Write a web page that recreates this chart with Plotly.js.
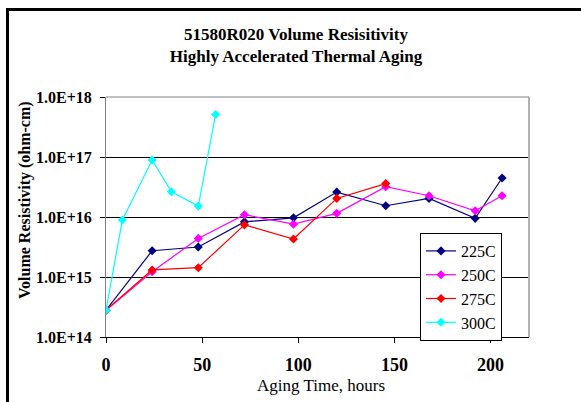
<!DOCTYPE html>
<html>
<head>
<meta charset="utf-8">
<script src="https://cdn.plot.ly/plotly-3.0.1.min.js"></script>
<style>html,body{margin:0;padding:0;background:#fff;}#chart{width:581px;height:402px;}</style>
</head>
<body>
<div id="chart"></div>
<script>
var x225 = [0, 24, 48, 72, 97.5, 120, 145.5, 168, 192, 206];
var y225 = [2.8e14, 2.74e15, 3.16e15, 8.3e15, 9.7e15, 2.6e16, 1.54e16, 2.04e16, 9.5e15, 4.47e16];
var x250 = [0, 24, 48, 72, 97.5, 120, 145.5, 168, 192, 206];
var y250 = [2.8e14, 1.22e15, 4.4e15, 1.09e16, 7.6e15, 1.15e16, 3.2e16, 2.26e16, 1.27e16, 2.26e16];
var x275 = [0, 24, 48, 72, 97.5, 120, 145.5];
var y275 = [2.8e14, 1.31e15, 1.43e15, 7.4e15, 4.3e15, 2.04e16, 3.6e16];
var x300 = [0, 8.5, 24, 34, 48, 57];
var y300 = [2.8e14, 8.9e15, 8.9e16, 2.63e16, 1.52e16, 5.1e17];
var seriesNames = ['225C', '250C', '275C', '300C'];
var seriesColors = ['#000080', '#FF00FF', '#FF0000', '#00FFFF'];
var yTickVals = [1e14, 1e15, 1e16, 1e17, 1e18];
var yTickText = ['1.0E+14', '1.0E+15', '1.0E+16', '1.0E+17', '1.0E+18'];
var xTickVals = [0, 50, 100, 150, 200];

var FONT = 'Liberation Serif';
var xs = [x225, x250, x275, x300];
var ys = [y225, y250, y275, y300];
var traces = seriesNames.map(function (n, i) {
  return {
    x: xs[i], y: ys[i], name: n, type: 'scatter', mode: 'lines+markers',
    line: {color: seriesColors[i], width: 1.2},
    marker: {symbol: 'diamond', size: 7, color: seriesColors[i]}
  };
});

var L = 106, R = 52, T = 97, B = 65, W = 581 - L - R, H = 402 - T - B;
function px(v) { return (v - L) / W; }
function py(v) { return (402 - B - v) / H; }

var layout = {
  width: 581, height: 402,
  margin: {l: L, r: R, t: T, b: B},
  paper_bgcolor: '#fff', plot_bgcolor: '#fff',
  font: {family: FONT, color: '#000'},
  title: {
    text: '<b>51580R020 Volume Resisitivity<br>Highly Accelerated Thermal Aging</b>',
    font: {size: 17, family: FONT, color: '#000'},
    xref: 'container', yref: 'container', x: 296 / 581, xanchor: 'center',
    y: 1 - 40 / 402, yanchor: 'middle'
  },
  xaxis: {
    range: [0, 220], tickvals: xTickVals, ticktext: xTickVals.map(function (v) { return '<b>' + v + '</b>'; }),
    ticks: 'outside', ticklen: 5, tickcolor: '#000', showgrid: false, zeroline: false,
    showline: true, linecolor: '#000', linewidth: 1, ticklabelstandoff: 6,
    tickfont: {size: 18, family: FONT}
  },
  yaxis: {
    type: 'log', range: [14, 18], tickvals: yTickVals, ticktext: yTickText.map(function (t) { return '<b>' + t + '</b>'; }),
    ticks: 'outside', ticklen: 5, tickcolor: '#000', showgrid: true, gridcolor: '#000', gridwidth: 1,
    zeroline: false, showline: true, linecolor: '#808080', linewidth: 1, ticklabelstandoff: 5,
    tickfont: {size: 16, family: FONT}
  },
  legend: {
    x: px(420), y: py(233), xanchor: 'left', yanchor: 'top',
    bgcolor: '#fff', bordercolor: '#000', borderwidth: 1, itemwidth: 30,
    font: {size: 16, family: FONT}
  },
  annotations: [{
    text: '<b>Volume Resistivity (ohm-cm)</b>', textangle: -90,
    xref: 'paper', yref: 'paper', x: px(25), y: py(200), xanchor: 'center', yanchor: 'middle',
    showarrow: false, font: {size: 16, family: FONT}
  }, {
    text: 'Aging Time, hours',
    xref: 'paper', yref: 'paper', x: px(320.5), y: py(385), xanchor: 'center', yanchor: 'middle',
    showarrow: false, font: {size: 17, family: FONT}
  }],
  shapes: [
    {type: 'line', xref: 'paper', yref: 'paper', x0: 0, x1: 1, y0: 1, y1: 1, line: {color: '#808080', width: 1}},
    {type: 'line', xref: 'paper', yref: 'paper', x0: 1, x1: 1, y0: 0, y1: 1, line: {color: '#b0b0b0', width: 2}},
    {type: 'line', xref: 'paper', yref: 'paper', x0: px(7.5), x1: px(7.5), y0: py(8.5), y1: py(410), line: {color: '#000', width: 3}},
    {type: 'line', xref: 'paper', yref: 'paper', x0: px(6), x1: px(590), y0: py(9.5), y1: py(9.5), line: {color: '#000', width: 3}}
  ],
  showlegend: true
};

Plotly.newPlot('chart', traces, layout, {displayModeBar: false, staticPlot: true});
</script>
</body>
</html>
